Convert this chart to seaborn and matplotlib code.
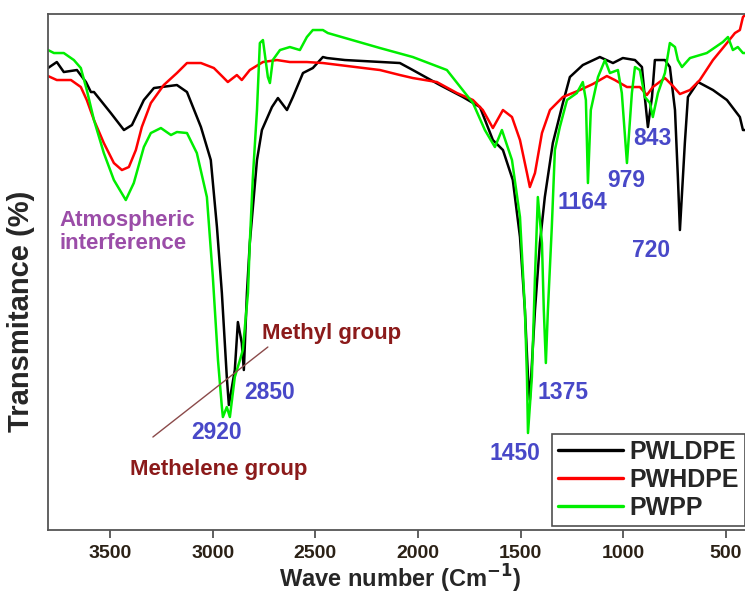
import numpy as np
import pandas as pd
import matplotlib
matplotlib.use("Agg")
import matplotlib.pyplot as plt
import seaborn as sns

# Spektrid loetud pildilt (lainearv cm-1, läbilaskvus suhtelistes ühikutes)
ldpe_wn = [3802, 3759, 3725, 3661, 3617, 3593, 3578, 3496, 3432, 3393, 3335, 3286, 3174, 3125,
           3057, 3009, 2979, 2955, 2931, 2921, 2892, 2877, 2858, 2848, 2833, 2819, 2784, 2760,
           2711, 2682, 2638, 2609, 2560, 2512, 2463, 2443, 2356, 2088, 2025, 1893, 1781, 1698,
           1635, 1586, 1538, 1503, 1479, 1464, 1455, 1430, 1406, 1382, 1343, 1294, 1260, 1197,
           1114, 1050, 1002, 943, 909, 895, 880, 860, 846, 797, 773, 748, 734, 724, 700, 685,
           636, 563, 495, 432, 417, 407]
ldpe_t = [92.4, 93.6, 91.6, 92.0, 89.6, 87.6, 87.6, 83.4, 80.0, 81.0, 86.0, 88.4, 89.0, 87.6,
          80.6, 74.0, 60.6, 47.4, 30.6, 25.0, 32.0, 41.6, 37.4, 32.0, 47.4, 57.4, 74.0, 80.0,
          84.6, 86.4, 84.0, 86.6, 91.4, 92.4, 94.6, 94.4, 94.0, 93.4, 92.0, 89.0, 86.6, 84.6,
          78.0, 76.0, 70.0, 58.6, 44.0, 30.6, 26.0, 44.0, 57.4, 66.6, 77.4, 85.4, 90.6, 93.0,
          94.6, 93.4, 94.4, 94.0, 92.6, 86.6, 80.6, 86.6, 94.0, 94.0, 92.6, 84.0, 70.6, 60.0,
          77.4, 86.6, 89.6, 88.0, 86.0, 82.6, 80.0, 80.0]

hdpe_wn = [3802, 3759, 3690, 3642, 3613, 3578, 3530, 3481, 3442, 3408, 3374, 3345, 3301, 3238,
           3174, 3125, 3057, 2994, 2950, 2926, 2882, 2858, 2819, 2755, 2687, 2624, 2541, 2463,
           2185, 2088, 2025, 1908, 1810, 1732, 1684, 1635, 1586, 1542, 1503, 1469, 1455, 1430,
           1396, 1357, 1294, 1211, 1148, 1080, 1041, 982, 919, 885, 856, 797, 758, 724, 675,
           627, 563, 495, 456, 432, 417, 407]
hdpe_t = [90.8, 90.0, 90.0, 88.6, 86.0, 82.0, 77.4, 73.4, 72.0, 72.6, 76.0, 80.6, 85.4, 89.0,
          91.4, 93.4, 93.4, 92.4, 90.6, 89.6, 91.0, 90.0, 92.0, 93.6, 94.0, 93.6, 93.6, 93.4,
          92.0, 91.0, 90.4, 89.6, 87.4, 86.0, 84.0, 80.4, 84.0, 82.6, 78.0, 71.4, 68.6, 71.4,
          79.4, 84.0, 86.6, 88.0, 89.2, 90.8, 90.0, 88.6, 88.6, 87.0, 88.6, 90.4, 88.8, 87.2,
          88.0, 90.0, 94.0, 97.4, 99.4, 100.0, 102.6, 103.0]

pp_wn = [3802, 3773, 3725, 3676, 3642, 3613, 3578, 3530, 3481, 3423, 3384, 3335, 3301, 3252,
         3203, 3174, 3125, 3077, 3028, 2999, 2974, 2955, 2950, 2931, 2916, 2892, 2867, 2853,
         2828, 2819, 2804, 2784, 2770, 2755, 2731, 2721, 2707, 2672, 2624, 2575, 2541, 2512,
         2463, 2439, 2185, 2025, 1859, 1732, 1674, 1625, 1591, 1542, 1503, 1479, 1469, 1464,
         1445, 1430, 1416, 1396, 1387, 1377, 1367, 1348, 1333, 1309, 1274, 1226, 1197, 1182,
         1172, 1158, 1123, 1089, 1065, 1026, 1007, 982, 958, 943, 919, 895, 870, 856, 831,
         797, 773, 748, 734, 714, 675, 593, 515, 490, 466, 442, 417, 407]
pp_t = [96.0, 95.4, 95.4, 94.0, 92.4, 88.0, 82.0, 75.4, 70.0, 66.0, 69.4, 76.6, 79.4, 80.4,
        79.0, 79.6, 79.4, 75.4, 66.6, 50.6, 34.0, 24.6, 22.6, 24.6, 22.6, 30.6, 34.0, 36.0,
        47.4, 57.4, 70.6, 84.0, 97.4, 98.0, 90.6, 89.4, 94.0, 96.0, 96.6, 96.0, 98.6, 100.0,
        100.0, 99.4, 96.4, 94.6, 92.0, 85.4, 80.0, 76.6, 80.0, 74.0, 62.6, 44.0, 30.6, 19.4,
        30.6, 50.6, 66.6, 57.4, 44.0, 33.4, 44.0, 60.6, 76.0, 80.6, 86.0, 87.4, 89.6, 86.0,
        69.4, 84.0, 90.6, 94.0, 91.4, 92.0, 87.4, 73.4, 87.4, 92.6, 92.0, 86.6, 85.4, 82.6, 87.4,
        91.4, 97.4, 96.6, 94.0, 92.6, 94.4, 95.4, 97.6, 98.6, 96.0, 96.6, 95.4, 95.4]

series_names = ["PWLDPE", "PWHDPE", "PWPP"]
series_colors = ["#000000", "#ff0000", "#00ee00"]

peak_labels = ["2920", "2850", "1450", "1375", "1164", "979", "843", "720"]
peak_pos = [(2979, 19.6), (2721, 27.6), (1528, 15.4), (1294, 27.6),
            (1201, 65.6), (987, 70.0), (860, 78.4), (865, 56.0)]

xticks = [3500, 3000, 2500, 2000, 1500, 1000, 500]

df = pd.concat([
    pd.DataFrame({"wn": ldpe_wn, "T": ldpe_t, "sample": "PWLDPE"}),
    pd.DataFrame({"wn": hdpe_wn, "T": hdpe_t, "sample": "PWHDPE"}),
    pd.DataFrame({"wn": pp_wn, "T": pp_t, "sample": "PWPP"}),
], ignore_index=True)

sns.set_style("white")
plt.rcParams["font.family"] = ["Liberation Sans", "DejaVu Sans"]
plt.rcParams["font.weight"] = "bold"

fig = plt.figure(figsize=(7.45, 5.97), dpi=100)
ax = fig.add_axes([0.0644, 0.1122, 0.9356, 0.8643])

sns.lineplot(data=df, x="wn", y="T", hue="sample", hue_order=series_names,
             palette=series_colors, estimator=None, sort=True, linewidth=1.8, ax=ax)

ax.set_xlim(3802, 407)
ax.set_ylim(0, 103.2)
ax.set_xticks(xticks)
ax.set_xticklabels([str(t) for t in xticks], fontsize=14, fontweight="bold", color="#2b2116")
ax.set_yticks([])
ax.tick_params(axis="x", direction="out", length=6, width=1.2, color="#444444",
               bottom=True, pad=5)
for side in ["left", "bottom", "top"]:
    ax.spines[side].set_color("#555555")
    ax.spines[side].set_linewidth(1.3)
ax.spines["right"].set_visible(False)

ax.set_xlabel("Wave number (Cm$^{\\mathbf{-1}}$)", fontsize=17, fontweight="bold")
ax.xaxis.set_label_coords(0.505, -0.064)
ax.set_ylabel("Transmitance (%)", fontsize=21, fontweight="bold")
ax.yaxis.set_label_coords(-0.018, 0.424)

# Annotatsioonid
ax.text(3744, 59.6, "Atmospheric\ninterference", color="#9b4da8", fontsize=16,
        fontweight="bold", ha="left", va="center", linespacing=1.1)
ax.text(2419, 39.4, "Methyl group", color="#8b1a1a", fontsize=16, fontweight="bold",
        ha="center", va="center")
ax.text(2970, 12.2, "Methelene group", color="#8b1a1a", fontsize=16, fontweight="bold",
        ha="center", va="center")
ax.plot([3291, 2731], [18.6, 36.6], color="#8b4a4a", linewidth=1.0)

for lab, (px, py) in zip(peak_labels, peak_pos):
    ax.text(px, py, lab, color="#4848c8", fontsize=16.5, fontweight="bold",
            ha="center", va="center")

handles, labels = ax.get_legend_handles_labels()
leg = ax.legend(handles, labels, loc="lower right", bbox_to_anchor=(1.0, 0.008),
                borderaxespad=0, frameon=True, fancybox=False,
                handlelength=2.6, handletextpad=0.25, labelspacing=0.15,
                borderpad=0.25, prop={"weight": "bold", "size": 18})
leg.get_frame().set_edgecolor("#222222")
leg.get_frame().set_linewidth(1.2)
for line in leg.get_lines():
    line.set_linewidth(2.4)

fig.savefig("out.png", dpi=100)
